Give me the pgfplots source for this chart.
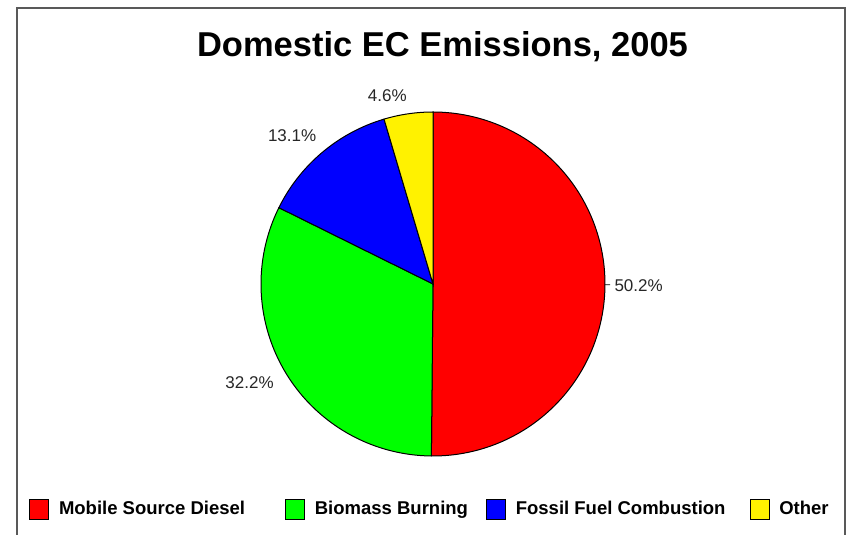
\documentclass[border=0pt]{standalone}
\usepackage{pgfplots}
\pgfplotsset{compat=1.18}
\usepackage{fontspec}
\setmainfont{Liberation Sans}

% Shares of domestic EC emissions, 2005 (percent)
\def\shareA{50.2}% Mobile Source Diesel
\def\shareB{32.2}% Biomass Burning
\def\shareC{13.1}% Fossil Fuel Combustion
\def\shareD{4.6}%  Other

\begin{document}
\begin{tikzpicture}[x=1pt,y=1pt,
  pct/.style={font=\fontsize{17}{20}\selectfont, text=black!85}]
\useasboundingbox (0,0) rectangle (846,535);
% outer frame
\draw[black!65, line width=1.2pt] (17,-10) -- (17,527) -- (845,527) -- (845,-10);
% title
\node[anchor=base, font=\bfseries\fontsize{34.5}{40}\selectfont] at (442.5,478) {Domestic EC Emissions, 2005};

% slice boundaries, clockwise from 12 o'clock
\pgfmathsetmacro\total{\shareA+\shareB+\shareC+\shareD}
\pgfmathsetmacro\angA{90}
\pgfmathsetmacro\angB{\angA-3.6*(\shareA*100/\total)}
\pgfmathsetmacro\angC{\angB-3.6*(\shareB*100/\total)}
\pgfmathsetmacro\angD{\angC-3.6*(\shareC*100/\total)}
\pgfmathsetmacro\angE{\angD-3.6*(\shareD*100/\total)}
\pgfmathsetmacro\midA{(\angA+\angB)/2}
\pgfmathsetmacro\midB{(\angB+\angC)/2}
\pgfmathsetmacro\midC{(\angC+\angD)/2}
\pgfmathsetmacro\midD{(\angD+\angE)/2}
\pgfmathsetmacro\ancA{\midA+180}
\pgfmathsetmacro\ancB{\midB+180}
\pgfmathsetmacro\ancC{\midC+540}
\pgfmathsetmacro\ancD{\midD+540}

\begin{axis}[
  at={(433pt,251pt)}, anchor=center,
  scale only axis, width=344pt, height=344pt,
  xmin=-1, xmax=1, ymin=-1, ymax=1,
  hide axis, clip=false,
  legend columns=4,
  legend style={
    at={(-0.6744,-0.154)}, anchor=west,
    draw=none, fill=none, inner sep=0pt,
    column sep=10pt,
    font=\bfseries\fontsize{18.5}{21}\selectfont,
    nodes={inner xsep=0pt},
  },
  legend image code/.code={%
    \draw[#1, draw=black, line width=0.8pt] (0pt,-10pt) rectangle (19pt,10pt);},
  slice/.style={draw=black, line width=1pt, samples=120, variable=\t},
]
\addplot[slice, fill=red,    domain=\angB:\angA] ({cos(\t)},{sin(\t)}) -- (axis cs:0,0) -- cycle;
\addlegendentry{Mobile Source Diesel\rule{30pt}{0pt}}
\addplot[slice, fill=green,  domain=\angC:\angB] ({cos(\t)},{sin(\t)}) -- (axis cs:0,0) -- cycle;
\addlegendentry{Biomass Burning\rule{8pt}{0pt}}
\addplot[slice, fill=blue,   domain=\angD:\angC] ({cos(\t)},{sin(\t)}) -- (axis cs:0,0) -- cycle;
\addlegendentry{Fossil Fuel Combustion\rule{14pt}{0pt}}
\addplot[slice, fill=yellow, domain=\angE:\angD] ({cos(\t)},{sin(\t)}) -- (axis cs:0,0) -- cycle;
\addlegendentry{Other}

% percentage labels
\draw[black, line width=0.8pt] (axis cs:{cos(\midA)},{sin(\midA)}) -- (axis cs:{1.03*cos(\midA)},{1.03*sin(\midA)});
\node[pct, anchor=\ancA] at (axis cs:{1.035*cos(\midA)},{1.035*sin(\midA)}) {\shareA\%};
\node[pct, anchor=\ancB, xshift=-10pt, yshift=8pt] at (axis cs:{1.075*cos(\midB)},{1.075*sin(\midB)}) {\shareB\%};
\node[pct, anchor=\ancC, xshift=-11pt, yshift=-6pt] at (axis cs:{1.10*cos(\midC)},{1.10*sin(\midC)}) {\shareC\%};
\node[pct, anchor=\ancD, xshift=-18pt, yshift=-2pt] at (axis cs:{1.065*cos(\midD)},{1.065*sin(\midD)}) {\shareD\%};
\end{axis}
\end{tikzpicture}
\end{document}
